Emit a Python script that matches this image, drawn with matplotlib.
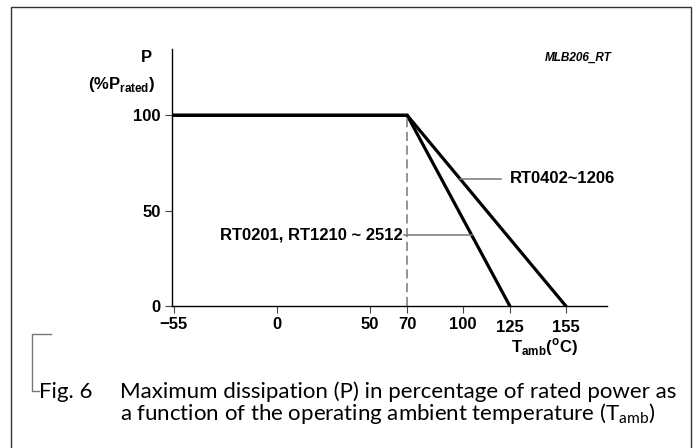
import matplotlib
matplotlib.use("Agg")
import matplotlib.pyplot as plt
from matplotlib.lines import Line2D

plt.rcParams["mathtext.fontset"] = "custom"
plt.rcParams["mathtext.sf"] = "Liberation Sans:bold"
plt.rcParams["mathtext.rm"] = "Lato"

# derating curves (temperature in degC, power in % of rated)
temp_small = [-55, 70, 155]
power_small = [100, 100, 0]
temp_large = [-55, 70, 125]
power_large = [100, 100, 0]

x_ticks = [-55, 0, 50, 70, 100, 125, 155]
x_labels = ["\u221255", "0", "50", "70", "100", "125", "155"]
y_ticks = [0, 50, 100]

label_small = "RT0402~1206"
label_large = "RT0201, RT1210 ~ 2512"

W, H = 695, 448
fig = plt.figure(figsize=(W / 100, H / 100), dpi=100)


def fx(px):
    return px / W


def fy(py):
    return 1 - py / H


ax = fig.add_axes([fx(172), fy(306), fx(606.7) - fx(172), fy(49.3) - fy(306)])
ax.set_xlim(-56, 176.9)
ax.set_ylim(0, 134.6)

ax.plot(temp_small, power_small, color="black", lw=2.3, solid_joinstyle="miter")
ax.plot(temp_large, power_large, color="black", lw=2.3, solid_joinstyle="miter")
ax.plot([70, 70], [0, 100], color="#777777", lw=1.1, ls=(0, (6, 3)))

for s in ["top", "right"]:
    ax.spines[s].set_visible(False)
for s in ["left", "bottom"]:
    ax.spines[s].set_linewidth(1.0)

tick_font = dict(family="Liberation Sans", weight="bold", size=12)
ax.set_xticks(x_ticks)
ax.set_xticklabels(x_labels, **tick_font)
ax.set_yticks(y_ticks)
ax.set_yticklabels([str(v) for v in y_ticks], **tick_font)
ax.tick_params(axis="both", length=5, width=0.8, color="#444444", pad=3)
for lbl in ax.get_xticklabels():
    if lbl.get_text() in ("125", "155"):
        lbl.set_y(-0.012)

# leader lines and curve labels
ax.plot([98.3, 120.5], [66.6, 66.6], color="#777777", lw=1.1)
ax.text(125, 66.6, label_small, ha="left", va="center", **tick_font)
ax.plot([68.5, 104.5], [37.2, 37.2], color="#777777", lw=1.1)
ax.text(67.5, 37.2, label_large, ha="right", va="center", **tick_font)

# axis titles
fig.text(fx(146), fy(57), "P", ha="center", va="center", **tick_font)
fig.text(fx(122), fy(84), "(%P$_{\\mathsf{rated}}$)", ha="center", va="center", **tick_font)
fig.text(fx(544), fy(347), "T$_{\\mathsf{amb}}$($^{\\mathsf{o}}$C)", ha="center", va="center", **tick_font)
fig.text(fx(578), fy(58), "MLB206_RT", ha="center", va="center",
         family="Liberation Sans", weight="bold", style="italic", size=8.5)

# frame and caption bracket
frame_kw = dict(color="#333333", lw=1.0, transform=fig.transFigure)
fig.add_artist(Line2D([fx(11), fx(11), fx(690.7), fx(690.7)],
                      [fy(450), fy(7.3), fy(7.3), fy(450)], **frame_kw))
br_kw = dict(color="#777777", lw=1.0, transform=fig.transFigure)
fig.add_artist(Line2D([fx(50.7), fx(32.3), fx(32.3), fx(39)],
                      [fy(334), fy(334), fy(391), fy(391)], **br_kw))

cap_font = dict(family="Lato", size=16, va="center", ha="left")
fig.text(fx(39), fy(392), "Fig. 6", **cap_font)
fig.text(fx(120), fy(392), "Maximum dissipation (P) in percentage of rated power as", **cap_font)
fig.text(fx(120), fy(413), "a function of the operating ambient temperature (T$_{\\mathrm{amb}}$)", **cap_font)

fig.savefig("out.png", dpi=100)
